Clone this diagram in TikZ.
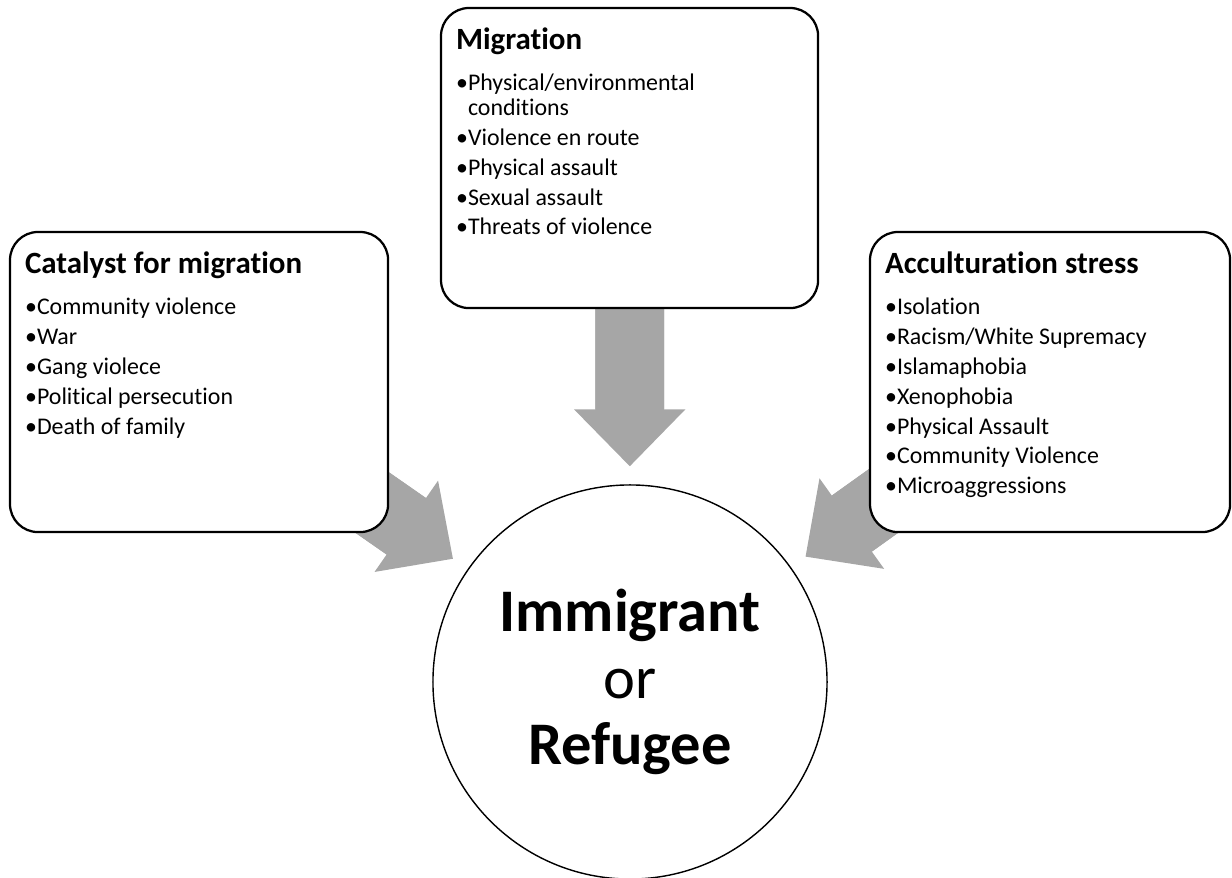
\documentclass[tikz,border=0pt]{standalone}
\usepackage{fontspec}
\setmainfont{Carlito}[Ligatures={NoCommon}]
\usetikzlibrary{arrows.meta,backgrounds}

\definecolor{arrowgray}{RGB}{166,166,166}

% heading and bullet lines inside the three boxes
\newcommand{\boxtitle}[1]{{\fontsize{22}{26}\selectfont\bfseries\rule{0pt}{1.025cm}#1\par}\vspace{0.3cm}}
\newcommand{\bitem}[1]{\par\noindent\hangindent=0.3cm\hangafter=1\makebox[0.3cm][l]{\textbullet}#1}
\newcommand{\boxtext}[2]{\begin{minipage}[t][7.5cm][t]{#1}\raggedright\fontsize{17}{17.7}\selectfont\setlength{\parskip}{3.5pt}#2\end{minipage}}

\begin{document}
\begin{tikzpicture}[x=0.025cm,y=-0.025cm,
  box/.style={draw,line width=1.6pt,rounded corners=0.7cm,fill=white,
    inner xsep=0.375cm,inner ysep=0pt,outer sep=0pt,anchor=north west},
  hub/.style={draw,circle,line width=1pt,fill=white,inner sep=0pt,
    minimum size=9.85cm,align=center,font=\fontsize{43}{47.5}\selectfont},
  bigarrow/.style={draw=arrowgray,line width=1.72cm,shorten >=0.45cm,
    -{Triangle[length=1.42cm,width=2.78cm,line width=0pt]},
    postaction={draw=arrowgray,line width=1.72cm,shorten >=1.8cm,-}}]

  \useasboundingbox (0,0) rectangle (1232,878);

  \node[box] (cat) at (10,232) {\boxtext{8.7cm}{%
    \boxtitle{Catalyst for migration}
    \bitem{Community violence}
    \bitem{War}
    \bitem{Gang violece}
    \bitem{Political persecution}
    \bitem{Death of family}}};

  \node[box] (mig) at (441,8) {\boxtext{8.675cm}{%
    \boxtitle{Migration}
    \bitem{Physical/environmental\newline conditions}
    \bitem{Violence en route}
    \bitem{Physical assault}
    \bitem{Sexual assault}
    \bitem{Threats of violence}}};

  \node[box] (acc) at (870,232) {\boxtext{8.25cm}{%
    \boxtitle{Acculturation stress}
    \bitem{Isolation}
    \bitem{Racism/White Supremacy}
    \bitem{Islamaphobia}
    \bitem{Xenophobia}
    \bitem{Physical Assault}
    \bitem{Community Violence}
    \bitem{Microaggressions}}};

  \node[hub] (imm) at (630,682) {\textbf{Immigrant}\\or\\\textbf{Refugee}};

  \begin{scope}[on background layer]
    \draw[bigarrow] (cat.center) -- (imm);
    \draw[bigarrow] (mig.center) -- (imm);
    \draw[bigarrow] (acc.center) -- (imm);
  \end{scope}

\end{tikzpicture}
\end{document}
